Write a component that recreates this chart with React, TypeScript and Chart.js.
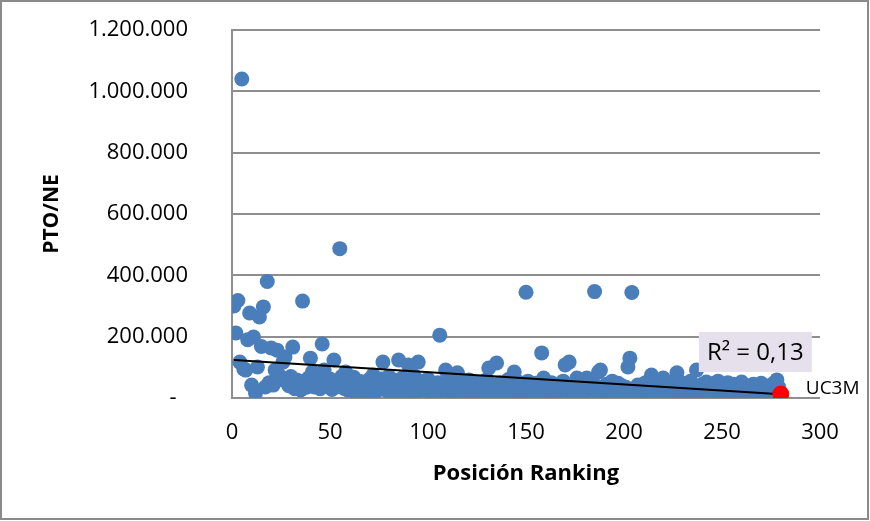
import React, { useEffect, useRef } from "react";
import { Chart, registerables } from "chart.js";

Chart.register(...registerables);

// PTO/NE value for each university, in order of ranking position 1..279
const ptoNeValues: number[] = [
  300000, 212000, 318000, 117000, 1040000, 95000, 91000, 190000, 277000, 42000,
  199000, 16000, 101000, 264000, 168000, 297000, 36000, 380000, 50000, 163000,
  42000, 91000, 156000, 75000, 60000, 117000, 134000, 52000, 40000, 70000,
  166000, 30000, 59000, 45000, 26000, 316000, 55000, 35000, 65000, 130000,
  85000, 36000, 48000, 58000, 30000, 176000, 91000, 52000, 40000, 62000,
  28000, 124000, 36000, 48000, 487000, 70000, 32000, 85000, 26000, 44000,
  26000, 68000, 20000, 38000, 55000, 30000, 10000, 45000, 22000, 60000,
  35000, 75000, 18000, 50000, 28000, 62000, 117000, 40000, 24000, 70000,
  48000, 15000, 58000, 32000, 124000, 3000, 65000, 40000, 22000, 108000,
  50000, 30000, 72000, 18000, 117000, 42000, 25000, 55000, 35000, 62000,
  20000, 45000, 30000, 15000, 50000, 205000, 38000, 25000, 91000, 55000,
  20000, 42000, 30000, 65000, 82000, 12000, 48000, 35000, 22000, 55000,
  59000, 10000, 40000, 28000, 50000, 15000, 35000, 45000, 25000, 60000,
  98000, 20000, 42000, 30000, 114000, 12000, 50000, 35000, 22000, 45000,
  60000, 18000, 38000, 85000, 28000, 52000, 15000, 40000, 25000, 345000,
  55000, 20000, 35000, 10000, 48000, 30000, 42000, 147000, 65000, 22000,
  5000, 38000, 50000, 15000, 28000, 45000, 20000, 35000, 55000, 108000,
  25000, 117000, 40000, 12000, 30000, 65000, 22000, 48000, 35000, 15000,
  65000, 42000, 28000, 55000, 347000, 20000, 85000, 91000, 35000, 10000,
  45000, 25000, 38000, 55000, 18000, 30000, 48000, 22000, 40000, 12000,
  35000, 101000, 130000, 344000, 28000, 15000, 42000, 20000, 35000, 8000,
  50000, 25000, 32000, 75000, 18000, 45000, 28000, 10000, 38000, 65000,
  22000, 50000, 30000, 15000, 42000, 55000, 82000, 20000, 35000, 48000,
  12000, 28000, 40000, 55000, 18000, 32000, 91000, 25000, 10000, 45000,
  30000, 52000, 20000, 38000, 15000, 48000, 28000, 55000, 35000, 12000,
  42000, 25000, 50000, 30000, 18000, 45000, 22000, 38000, 5000, 52000,
  28000, 15000, 40000, 32000, 20000, 45000, 10000, 35000, 25000, 48000,
  18000, 38000, 30000, 12000, 42000, 28000, 50000, 59000, 35000,
];

// Highlighted university
const uc3mLabel = "UC3M";
const uc3mRank = 280;
const uc3mValue = 13000;

// Linear trend line endpoints (rank, value)
const trendRanks = [1, 280];
const trendValues = [124000, 12000];
const r2Text = "R² = 0,13";
const r2Anchor = { x: 267, y: 150000 };

// Axis settings
const xTicksMin = 0;
const xTicksMax = 300;
const xStep = 50;
const yTicksMin = 0;
const yTicksMax = 1200000;
const yStep = 200000;

const xTitle = "Posición Ranking";
const yTitle = "PTO/NE";

const FONT = "'Open Sans', 'Liberation Sans', sans-serif";

function formatThousands(v: number): string {
  if (v === 0) return "-  ";
  return String(Math.round(v)).replace(/\B(?=(\d{3})+(?!\d))/g, ".");
}

export default function App() {
  const ref = useRef<HTMLCanvasElement | null>(null);

  useEffect(() => {
    if (!ref.current) return;
    const points = ptoNeValues.map((v, i) => ({ x: i + 1, y: v }));

    const annotations = {
      id: "annotations",
      afterDatasetsDraw(chart: any) {
        const { ctx, scales } = chart;
        const xs = scales.x;
        const ys = scales.y;
        ctx.save();
        // R² box
        const cx = xs.getPixelForValue(r2Anchor.x);
        const cy = ys.getPixelForValue(r2Anchor.y);
        const w = 113;
        const h = 40;
        ctx.fillStyle = "#e6e0ec";
        ctx.fillRect(cx - w / 2, cy - h / 2, w, h);
        ctx.fillStyle = "#000";
        ctx.font = `24px ${FONT}`;
        ctx.textAlign = "center";
        ctx.textBaseline = "middle";
        ctx.fillText(r2Text, cx, cy + 1);
        // UC3M label
        const px = xs.getPixelForValue(uc3mRank);
        const py = ys.getPixelForValue(uc3mValue);
        ctx.font = `19px ${FONT}`;
        ctx.textAlign = "left";
        ctx.fillText(uc3mLabel, px + 25, py - 5);
        ctx.restore();
      },
      afterDraw(chart: any) {
        const { ctx, width, height } = chart;
        ctx.save();
        ctx.strokeStyle = "#8a8a8a";
        ctx.lineWidth = 2;
        ctx.strokeRect(1, 1, width - 3, height - 3);
        ctx.restore();
      },
    };

    const chart = new Chart(ref.current, {
      type: "scatter",
      data: {
        datasets: [
          {
            label: uc3mLabel,
            data: [{ x: uc3mRank, y: uc3mValue }],
            backgroundColor: "#ff0000",
            borderColor: "#ff0000",
            pointRadius: 8,
            order: 0,
          },
          {
            label: "Tendencia",
            data: trendRanks.map((r, i) => ({ x: r, y: trendValues[i] })),
            showLine: true,
            borderColor: "#000000",
            borderWidth: 2,
            pointRadius: 0,
            order: 1,
          } as any,
          {
            label: "PTO/NE",
            data: points,
            backgroundColor: "#4a7ebb",
            borderColor: "#4a7ebb",
            pointRadius: 7.5,
            borderWidth: 0,
            order: 2,
          },
        ],
      },
      options: {
        animation: false,
        responsive: false,
        maintainAspectRatio: false,
        layout: { padding: { left: 0, top: 30, right: 50, bottom: 0 } },
        plugins: {
          legend: { display: false },
          tooltip: { enabled: false },
        },
        scales: {
          x: {
            type: "linear",
            min: xTicksMin,
            max: xTicksMax,
            ticks: {
              stepSize: xStep,
              padding: 22,
              color: "#000",
              font: { family: FONT, size: 22 },
            },
            grid: { display: false, drawTicks: false },
            border: { display: false },
            title: {
              display: true,
              text: xTitle,
              color: "#000",
              font: { family: FONT, size: 22, weight: "bold" },
              padding: { top: 0, bottom: 34 },
            },
            afterFit(scale: any) {
              scale.height = 123;
            },
          },
          y: {
            type: "linear",
            min: yTicksMin,
            max: yTicksMax,
            ticks: {
              stepSize: yStep,
              padding: 44,
              color: "#000",
              font: { family: FONT, size: 22 },
              callback: (v: any) => formatThousands(Number(v)),
            },
            grid: { color: "#8e8e8e", lineWidth: 2, drawTicks: false },
            border: { display: true, color: "#8e8e8e", width: 2 },
            title: {
              display: true,
              text: yTitle,
              color: "#000",
              font: { family: FONT, size: 21, weight: "bold" },
              padding: { top: 39, bottom: 0 },
            },
            afterFit(scale: any) {
              scale.width = 232;
              scale.paddingTop = 12;
              scale.paddingBottom = 12;
            },
          },
        },
      },
      plugins: [annotations],
    });
    return () => chart.destroy();
  }, []);

  return (
    <div style={{ position: "absolute", left: 0, top: 0, width: 870, height: 521, background: "#fff" }}>
      <canvas ref={ref} width={870} height={521} style={{ width: 870, height: 521, display: "block" }} />
    </div>
  );
}
